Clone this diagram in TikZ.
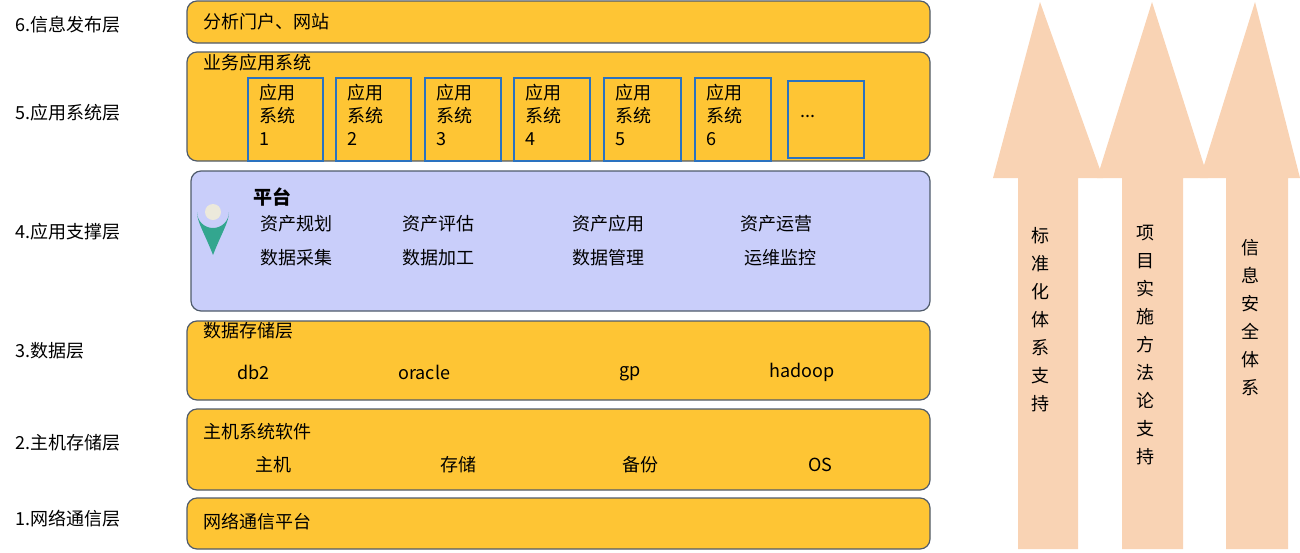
\documentclass[tikz,border=0pt]{standalone}
\usepackage{fontspec}
\setmainfont{Noto Sans CJK SC}
\usetikzlibrary{positioning}
\definecolor{layerYellow}{HTML}{FEC534}
\definecolor{layerEdge}{HTML}{4F5B6B}
\definecolor{platBlue}{HTML}{C9CEFA}
\definecolor{appEdge}{HTML}{2A72C0}
\definecolor{arrowPeach}{HTML}{F9D3B4}
\definecolor{pinGreen}{HTML}{33A68F}
\definecolor{pinDot}{HTML}{ECE9DB}

\begin{document}
\begin{tikzpicture}[
    x=0.5pt, y=-0.5pt,
    font=\fontsize{9}{11}\selectfont,
    layer/.style={draw=layerEdge, fill=layerYellow, rounded corners=5pt, line width=0.6pt},
    appbox/.style={draw=appEdge, line width=0.6pt, inner sep=0},
    lbl/.style={anchor=west, inner sep=0},
    item/.style={anchor=west, inner sep=0},
    vtext/.style={align=center, font=\fontsize{9}{14}\selectfont, inner sep=0},
    support/.style={fill=arrowPeach}
]
\useasboundingbox (0,0) rectangle (1300,552);

% layer labels
\node[lbl] (L6) at (15,25) {6.信息发布层};
\node[lbl] (L5) at (15,113) {5.应用系统层};
\node[lbl] (L4) at (15,232) {4.应用支撑层};
\node[lbl] (L3) at (15,351) {3.数据层};
\node[lbl] (L2) at (15,443) {2.主机存储层};
\node[lbl] (L1) at (15,519) {1.网络通信层};

% layer 6
\draw[layer] (187,1) rectangle (930,43);
\node[item] (portal) at (203,22) {分析门户、网站};

% layer 5
\draw[layer] (187,52) rectangle (930,161);
\node[item] (biz) at (203,63) {业务应用系统};
\foreach \xa/\xb/\n in {248/323/1, 336/411/2, 425/501/3, 514/590/4, 604/681/5, 695/771/6}{
    \draw[appbox] (\xa,78) rectangle (\xb,161);
    \node[item, align=left, anchor=north west, font=\fontsize{9}{11.5}\selectfont] (app\n) at (\xa+11,84) {应用\\系统\\\n};
}
\draw[appbox] (788,81) rectangle (864,158);
\node[item] (appdots) at (800,116) {...};

% layer 4
\draw[layer, fill=platBlue] (191,171) rectangle (930,311);
\fill[pinGreen] (213,255) .. controls (204,232) and (197,222) .. (197,212)
    arc[start angle=180, end angle=0, radius=16] .. controls (229,222) and (222,232) .. (213,255);
\fill[pinDot] (213,212) circle[radius=8];
\node[item, font=\fontsize{9.5}{11}\selectfont\bfseries] (plat) at (253,197) {平台};
\node[item] (p1) at (260,224) {资产规划};
\node[item] (p2) at (402,224) {资产评估};
\node[item] (p3) at (572,224) {资产应用};
\node[item] (p4) at (740,224) {资产运营};
\node[item] (p5) at (260,258) {数据采集};
\node[item] (p6) at (402,258) {数据加工};
\node[item] (p7) at (572,258) {数据管理};
\node[item] (p8) at (744,258) {运维监控};

% layer 3
\draw[layer] (187,321) rectangle (930,400);
\node[item] (store) at (203,331) {数据存储层};
\node[item] (db2) at (237,372) {db2};
\node[item] (oracle) at (398,372) {oracle};
\node[item] (gp) at (619,374) {gp};
\node[item] (hadoop) at (769,372) {hadoop};

% layer 2
\draw[layer] (187,409) rectangle (930,490);
\node[item] (host) at (203,432) {主机系统软件};
\node[item] (h1) at (255,465) {主机};
\node[item] (h2) at (440,465) {存储};
\node[item] (h3) at (622,465) {备份};
\node[item] (h4) at (808,465) {OS};

% layer 1
\draw[layer] (187,498) rectangle (930,549);
\node[item] (net) at (203,522) {网络通信平台};

% support arrows
\fill[support] (1018,549) -- (1018,178) -- (993,178) -- (1040,2) -- (1103,178) -- (1078,178) -- (1078,549) -- cycle;
\fill[support] (1122,549) -- (1122,178) -- (1097,178) -- (1152,2) -- (1208,178) -- (1183,178) -- (1183,549) -- cycle;
\fill[support] (1226,549) -- (1226,178) -- (1200,178) -- (1255,2) -- (1300,178) -- (1288,178) -- (1288,549) -- cycle;
\node[vtext] (s1) at (1040,320) {标\\准\\化\\体\\系\\支\\持};
\node[vtext] (s2) at (1145,345) {项\\目\\实\\施\\方\\法\\论\\支\\持};
\node[vtext] (s3) at (1250,318) {信\\息\\安\\全\\体\\系};
\end{tikzpicture}
\end{document}
